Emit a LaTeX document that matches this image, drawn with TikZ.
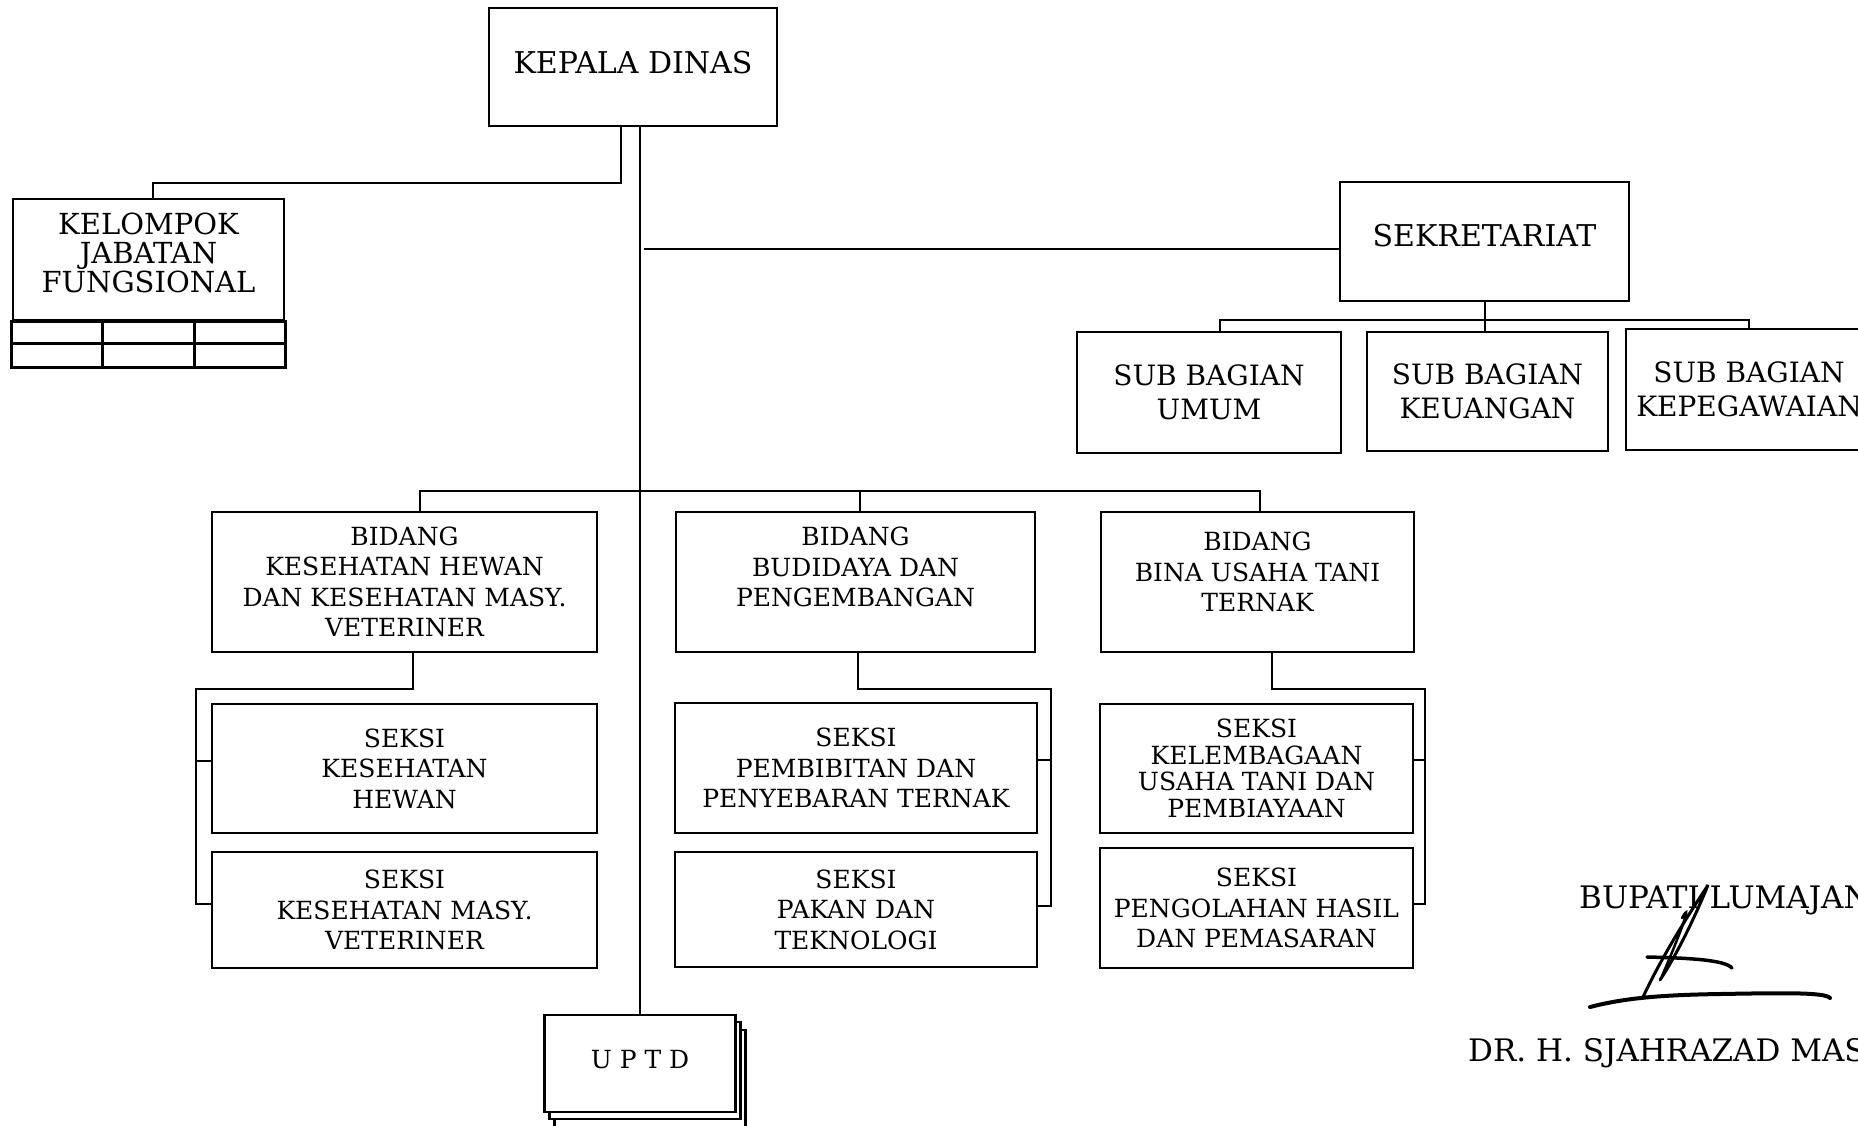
\documentclass[tikz,border=0pt]{standalone}
\usepackage{fontspec}
\setmainfont{DejaVu Serif}
\usetikzlibrary{calc}

\tikzset{
  box/.style={draw, line width=2.8pt, align=center, inner sep=0pt, fill=white},
  link/.style={line width=2pt},
  txtbig/.style={font=\fontsize{30}{30}\selectfont},
  txtmid/.style={font=\fontsize{28}{34}\selectfont},
  txtsmall/.style={font=\fontsize{25}{30.5}\selectfont},
}

\begin{document}
\begin{tikzpicture}[x=1pt, y=-1pt]
        \useasboundingbox (0,0) rectangle (1858,1126);
        \clip (0,0) rectangle (1858,1126);

        % Pimpinan dan sekretariat
        \node[box, txtbig, minimum width=288pt, minimum height=118pt] (kd) at (633,67) {KEPALA DINAS\\[-20pt]\mbox{}};
        \node[box, font=\fontsize{29}{29}\selectfont, minimum width=271pt, minimum height=121pt] (kjf) at (148.5,259.5) {KELOMPOK\\JABATAN\\FUNGSIONAL\\[-15pt]\mbox{}};
        \draw[line width=2.8pt] (kjf.south west) rectangle ([yshift=-46pt]kjf.south east);
        \draw[line width=2.8pt] ([yshift=-22pt]kjf.south west) -- ([yshift=-22pt]kjf.south east);
        \foreach \i in {1,2}
            \draw[line width=2.8pt] ($(kjf.south west)!\i/3!(kjf.south east)$) -- ++(0,46);
        \node[box, txtbig, minimum width=289pt, minimum height=119pt] (sek) at (1484.5,241.5) {SEKRETARIAT\\[-18pt]\mbox{}};
        \node[box, txtmid, minimum width=264pt, minimum height=121pt] (sbu) at (1209,392.5) {SUB BAGIAN\\UMUM};
        \node[box, txtmid, minimum width=241pt, minimum height=119pt] (sbk) at (1487.5,391.5) {SUB BAGIAN\\KEUANGAN};
        \node[box, txtmid, minimum width=246pt, minimum height=121pt] (sbp) at (1749,389.5) {SUB BAGIAN\\KEPEGAWAIAN};

        % Bidang
        \node[box, txtsmall, minimum width=385pt, minimum height=140pt] (bkh) at (404.5,582) {BIDANG\\KESEHATAN HEWAN\\DAN KESEHATAN MASY.\\VETERINER};
        \node[box, txtsmall, minimum width=359pt, minimum height=140pt] (bbp) at (855.5,582) {BIDANG\\BUDIDAYA DAN\\PENGEMBANGAN\\\mbox{}};
        \node[box, txtsmall, minimum width=313pt, minimum height=140pt] (bbu) at (1257.5,582) {BIDANG\\BINA USAHA TANI\\TERNAK\\[-10pt]\mbox{}};

        % Seksi
        \node[box, txtsmall, minimum width=385pt, minimum height=129pt] (skh) at (404.5,768.5) {SEKSI\\KESEHATAN\\HEWAN};
        \node[box, txtsmall, minimum width=385pt, minimum height=116pt] (skm) at (404.5,910) {SEKSI\\KESEHATAN MASY.\\VETERINER};
        \node[box, txtsmall, minimum width=362pt, minimum height=130pt] (spp) at (856,768) {SEKSI\\PEMBIBITAN DAN\\PENYEBARAN TERNAK};
        \node[box, txtsmall, minimum width=362pt, minimum height=115pt] (spt) at (856,909.5) {SEKSI\\PAKAN DAN\\TEKNOLOGI};
        \node[box, font=\fontsize{25}{26.5}\selectfont, minimum width=313pt, minimum height=129pt] (skl) at (1256.5,768.5) {SEKSI\\KELEMBAGAAN\\USAHA TANI DAN\\PEMBIAYAAN};
        \node[box, txtsmall, minimum width=313pt, minimum height=120pt] (sph) at (1256.5,908) {SEKSI\\PENGOLAHAN HASIL\\DAN PEMASARAN};

        % UPTD bertumpuk
        \node[box, minimum width=191pt, minimum height=97pt] (uptdc) at (650,1078.5) {};
        \node[box, minimum width=191pt, minimum height=97pt] (uptdb) at (645,1070.5) {};
        \node[box, txtsmall, minimum width=191pt, minimum height=97pt] (uptd) at (640,1063.5) {U P T D\\[-22pt]\mbox{}};

        % Garis komando
        \draw[link] (kd.south -| uptd.north) -- (uptd.north);
        \draw[link] ([xshift=-12pt]kd.south) -- ++(0,56) -| ([xshift=4pt]kjf.north);
        \coordinate (sekj) at (644,249);
        \draw[link] (sekj) -- (sekj -| sek.west);
        \draw[link] (sek.south) -- (sek.south |- sbk.north);
        \draw[link] ([xshift=11pt]sbu.north) -- ++(0,-11) -| (sbp.north);
        \draw[link] ([xshift=15pt]bkh.north) -- ++(0,-20) -| ([xshift=2pt]bbu.north);
        \draw[link] ([xshift=4pt]bbp.north) -- ++(0,-20);

        \draw[link] ([xshift=8pt]bkh.south) -- ++(0,36) -| ([xshift=-15pt,yshift=6pt]skm.west) -- ([yshift=6pt]skm.west);
        \draw[link] ([yshift=8pt]skh.west) -- ++(-15,0);
        \draw[link] ([xshift=2pt]bbp.south) -- ++(0,36) -| ([xshift=13pt,yshift=4pt]spt.east) -- ([yshift=4pt]spt.east);
        \draw[link] ([yshift=8pt]spp.east) -- ++(13,0);
        \draw[link] ([xshift=14pt]bbu.south) -- ++(0,36) -| ([xshift=11pt,yshift=4pt]sph.east) -- ([yshift=4pt]sph.east);
        \draw[link] ([yshift=9pt]skl.east) -- ++(11,0);

        % Pengesahan
        \node[anchor=west, inner sep=0pt, font=\fontsize{31}{31}\selectfont] (bupati) at (1579,900) {BUPATI LUMAJANG};
        \node[anchor=west, inner sep=0pt, font=\fontsize{31}{31}\selectfont] (nama) at (1468,1053) {DR. H. SJAHRAZAD MASDAR};
        \draw[line width=4pt, line cap=round] (1590,1007) .. controls (1625,998) and (1660,995) .. (1720,994) .. controls (1780,993) and (1825,992) .. (1830,998);
        \draw[line width=3.5pt, line cap=round] (1647,957) .. controls (1690,958) and (1725,960) .. (1732,968);
        \draw[line width=3pt, line cap=round] (1643,997) .. controls (1665,950) and (1695,905) .. (1708,885) .. controls (1700,905) and (1680,950) .. (1660,980);
        \draw[line width=2.5pt, line cap=round] (1682,918) .. controls (1692,900) and (1684,925) .. (1662,976);
\end{tikzpicture}
\end{document}
